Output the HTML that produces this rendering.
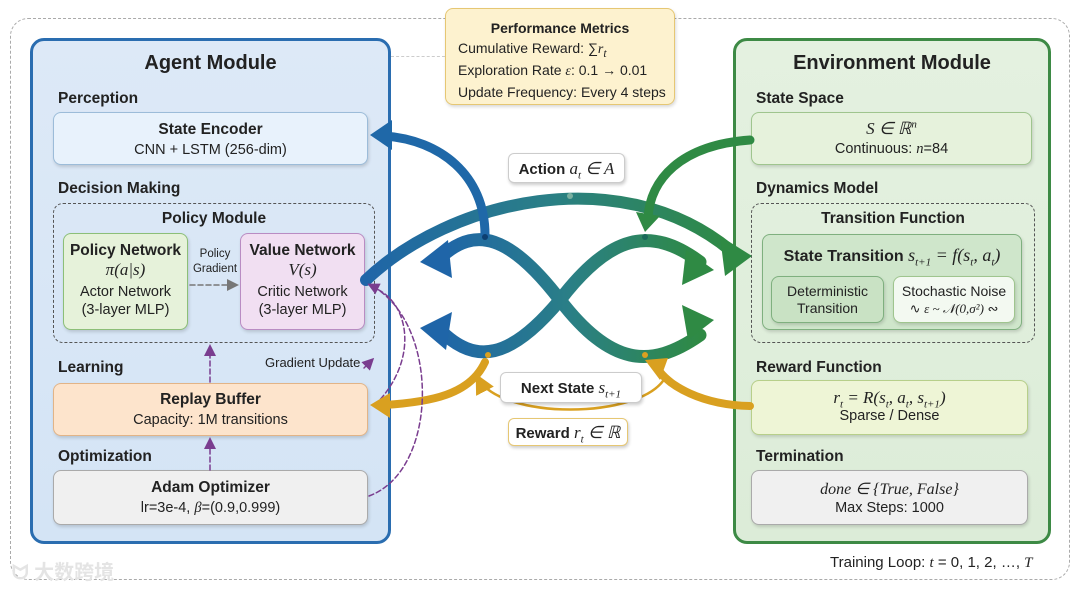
<!DOCTYPE html>
<html><head><meta charset="utf-8"><style>
*{box-sizing:border-box;margin:0;padding:0}
body{width:1080px;height:589px;background:#fff;position:relative;overflow:hidden;font-family:"Liberation Sans",sans-serif;color:#222}
sub,sup{line-height:0}
.a{position:absolute}
.box{position:absolute;border-radius:8px;text-align:center;box-shadow:1px 2px 3px rgba(0,0,0,.15)}
.h{font-weight:bold;font-size:15.5px;position:absolute}
.t{font-weight:bold;font-size:15.5px}
.s{font-size:14.5px}
.m{font-family:"Liberation Serif",serif;font-style:italic}
.lab{position:absolute;background:#fff;border-radius:6px;text-align:center;font-weight:bold;font-size:15px;box-shadow:1px 2px 3px rgba(0,0,0,.2)}
</style></head><body>
<div class="a" style="left:10px;top:18px;width:1060px;height:562px;border:1.5px dashed #aaa;border-radius:18px"></div>

<div class="a" style="left:30px;top:38px;width:361px;height:506px;border:3px solid #2a6db0;border-radius:14px;background:linear-gradient(#dde9f7,#d4e4f5)"></div>
<div class="a" style="left:30px;top:52px;width:361px;text-align:center;font-weight:bold;font-size:20px">Agent Module</div>
<div class="h" style="left:58px;top:90px">Perception</div>
<div class="box" style="left:53px;top:112px;width:315px;height:53px;background:#e8f2fc;border:1.5px solid #9cbcd9;padding-top:8px"><div class="t">State Encoder</div><div class="s" style="margin-top:3px">CNN + LSTM (256-dim)</div></div>
<div class="h" style="left:58px;top:180px">Decision Making</div>
<div class="a" style="left:53px;top:203px;width:322px;height:140px;border:1.5px dashed #555;border-radius:10px"></div>
<div class="a t" style="left:53px;top:210px;width:322px;text-align:center">Policy Module</div>
<div class="box" style="left:63px;top:233px;width:125px;height:97px;background:#e6f2da;border:1.5px solid #8cbf78;padding-top:8px"><div class="t">Policy Network</div><div class="m" style="font-size:17px">π(a|s)</div><div class="s" style="margin-top:3px;line-height:18px">Actor Network<br>(3-layer MLP)</div></div>
<div class="box" style="left:240px;top:233px;width:125px;height:97px;background:#f1dff2;border:1.5px solid #b98cc3;padding-top:8px"><div class="t">Value Network</div><div class="m" style="font-size:17px">V(s)</div><div class="s" style="margin-top:3px;line-height:18px">Critic Network<br>(3-layer MLP)</div></div>
<div class="a" style="left:190px;top:247px;width:50px;text-align:center;font-size:11.5px;line-height:15px">Policy<br>Gradient</div>
<div class="h" style="left:58px;top:359px">Learning</div>
<div class="a" style="left:265px;top:355px;font-size:13px">Gradient Update</div>
<div class="box" style="left:53px;top:383px;width:315px;height:53px;background:#fde4cc;border:1.5px solid #e2b487;padding-top:7px"><div class="t">Replay Buffer</div><div class="s" style="margin-top:3px">Capacity: 1M transitions</div></div>
<div class="h" style="left:58px;top:448px">Optimization</div>
<div class="box" style="left:53px;top:470px;width:315px;height:55px;background:#f0f0f0;border:1.5px solid #aaa;padding-top:8px"><div class="t">Adam Optimizer</div><div class="s" style="margin-top:3px">lr=3e-4, <span class="m">β</span>=(0.9,0.999)</div></div>

<div class="a" style="left:733px;top:38px;width:318px;height:506px;border:3px solid #3d8a45;border-radius:14px;background:linear-gradient(#e4f1e0,#dcecd8)"></div>
<div class="a" style="left:733px;top:52px;width:318px;text-align:center;font-weight:bold;font-size:20px">Environment Module</div>
<div class="h" style="left:756px;top:90px">State Space</div>
<div class="box" style="left:751px;top:112px;width:281px;height:53px;background:#e6f2dc;border:1.5px solid #9fc58e;padding-top:6px"><div class="m" style="font-size:17px">S ∈ ℝ<sup style="font-size:11px">n</sup></div><div class="s" style="margin-top:2px">Continuous: <span class="m">n</span>=84</div></div>
<div class="h" style="left:756px;top:180px">Dynamics Model</div>
<div class="a" style="left:751px;top:203px;width:284px;height:140px;border:1.5px dashed #555;border-radius:10px"></div>
<div class="a t" style="left:751px;top:210px;width:284px;text-align:center">Transition Function</div>
<div class="box" style="left:762px;top:234px;width:260px;height:96px;background:#cfe6cb;border:1.5px solid #7fb07f;padding-top:10px"><div class="t" style="font-size:16px">State Transition <span class="m" style="font-weight:normal;font-size:18px">s<sub style="font-size:11px">t+1</sub> = f(s<sub style="font-size:11px">t</sub>, a<sub style="font-size:11px">t</sub>)</span></div></div>
<div class="box" style="left:771px;top:276px;width:113px;height:47px;background:#c9e2c4;border:1.5px solid #7fb07f;padding-top:6px;font-size:14px;line-height:17px">Deterministic<br>Transition</div>
<div class="box" style="left:893px;top:276px;width:122px;height:47px;background:#f3f9f1;border:1.5px solid #9fc58e;padding-top:6px;font-size:14px;line-height:17px">Stochastic Noise<br><span style="font-size:13px">∿ <span class="m">ε ~ 𝒩(0,σ²)</span> ∾</span></div>
<div class="h" style="left:756px;top:359px">Reward Function</div>
<div class="box" style="left:751px;top:380px;width:277px;height:55px;background:#eef5d6;border:1.5px solid #b7cf8a;padding-top:7px"><div class="m" style="font-size:17px">r<sub style="font-size:11px">t</sub> = R(s<sub style="font-size:11px">t</sub>, a<sub style="font-size:11px">t</sub>, s<sub style="font-size:11px">t+1</sub>)</div><div class="s">Sparse / Dense</div></div>
<div class="h" style="left:756px;top:448px">Termination</div>
<div class="box" style="left:751px;top:470px;width:277px;height:55px;background:#f0f0f0;border:1.5px solid #aaa;padding-top:8px"><div class="m" style="font-size:16px">done ∈ {True, False}</div><div class="s" style="margin-top:1px">Max Steps: 1000</div></div>
<div class="a" style="left:830px;top:554px;font-size:15px">Training Loop: <span class="m">t</span> = 0, 1, 2, …, <span class="m">T</span></div>
<div class="a" style="left:12px;top:556px;font-size:20px;color:#e4e4e4;font-weight:bold;font-family:'Liberation Sans','Noto Sans CJK SC',sans-serif">ᗢ 大数跨境</div>

<div class="box" style="left:445px;top:8px;width:230px;height:97px;background:#fdf2cf;border:1.5px solid #e6c773;padding-top:9px;text-align:left;padding-left:12px;font-size:14px;line-height:20px"><div style="text-align:center;font-weight:bold;margin-left:-12px">Performance Metrics</div>Cumulative Reward: ∑<span class="m">r<sub>t</sub></span><br>Exploration Rate <span class="m">ε</span>: 0.1 → 0.01<br>Update Frequency: Every 4 steps</div>
<div class="a" style="left:391px;top:56px;width:54px;border-top:1.5px dashed #ccc"></div>

<svg class="a" style="left:0;top:0" width="1080" height="589" viewBox="0 0 1080 589">
<defs>
<linearGradient id="bg" x1="0" x2="1"><stop offset="0" stop-color="#1f65a8"/><stop offset=".5" stop-color="#2a7f86"/><stop offset="1" stop-color="#2f8a44"/></linearGradient>
<marker id="pa" markerWidth="8" markerHeight="8" refX="6" refY="4" orient="auto"><path d="M0,0L8,4L0,8z" fill="#7a3d8f"/></marker>
<marker id="ga" markerWidth="8" markerHeight="8" refX="6" refY="4" orient="auto"><path d="M0,0L8,4L0,8z" fill="#777"/></marker>
<marker id="oa" markerWidth="8" markerHeight="8" refX="6" refY="4" orient="auto"><path d="M0,0L8,4L0,8z" fill="#d9a020"/></marker>
</defs>
<g fill="none" stroke-linecap="round">
<path d="M366,280 C450,200 620,160 730,250" stroke="url(#bg)" stroke-width="12"/>
<path d="M440,258 C475,225 510,235 560,300 C610,365 650,370 700,335" stroke="url(#bg)" stroke-width="13"/>
<path d="M440,330 C475,365 510,360 560,300 C610,235 650,225 700,262" stroke="url(#bg)" stroke-width="13"/>
<path d="M485,235 C485,175 440,140 385,136" stroke="#1f68a8" stroke-width="9"/>
<path d="M750,140 C680,145 650,180 648,218" stroke="#2f8a44" stroke-width="9"/>
<path d="M485,362 C470,395 430,402 385,405" stroke="#d9a020" stroke-width="8"/>
<path d="M750,406 C700,405 670,385 660,372" stroke="#d9a020" stroke-width="8"/>
<path d="M665,378 C640,420 500,420 478,378" stroke="#d9a020" stroke-width="2.5" marker-end="url(#oa)"/>
<path d="M190,285 L236,285" stroke="#777" stroke-width="1.5" stroke-dasharray="5,3" marker-end="url(#ga)"/>
<path d="M210,470 L210,440" stroke="#7a3d8f" stroke-width="1.5" stroke-dasharray="5,3" marker-end="url(#pa)"/>
<path d="M210,382 L210,347" stroke="#7a3d8f" stroke-width="1.5" stroke-dasharray="5,3" marker-end="url(#pa)"/>
<path d="M369,496 C440,470 440,320 370,285" stroke="#7a3d8f" stroke-width="1.5" stroke-dasharray="5,3" marker-end="url(#pa)"/>
<path d="M375,405 C420,360 410,300 372,287" stroke="#7a3d8f" stroke-width="1.5" stroke-dasharray="5,3"/>
<path d="M364,368 L372,360" stroke="#7a3d8f" stroke-width="1.5" stroke-dasharray="3,2" marker-end="url(#pa)"/>
</g>
<g>
<path d="M752,256 L720,236 L725,276 z" fill="#2f8a44"/>
<path d="M420,262 L448,240 L452,278 z" fill="#1f65a8"/>
<path d="M420,328 L452,312 L446,350 z" fill="#1f65a8"/>
<path d="M714,270 L686,250 L682,285 z" fill="#2f8a44"/>
<path d="M714,320 L682,305 L688,340 z" fill="#2f8a44"/>
<path d="M370,135 L392,120 L392,150 z" fill="#1f68a8"/>
<path d="M645,232 L636,212 L660,216 z" fill="#2f8a44"/>
<path d="M370,405 L390,393 L390,418 z" fill="#d9a020"/>
<path d="M645,360 L668,358 L660,380 z" fill="#d9a020"/>
<circle cx="485" cy="237" r="3" fill="#0d3f70"/><circle cx="645" cy="237" r="3" fill="#1a6a5a"/>
<circle cx="570" cy="196" r="3" fill="#7ab0a0"/><circle cx="488" cy="355" r="3" fill="#d9a020"/><circle cx="645" cy="355" r="3" fill="#d9a020"/>
</g>
</svg>

<div class="lab" style="left:508px;top:153px;width:117px;height:30px;padding-top:5px;border:1px solid #ccc">Action <span class="m" style="font-weight:normal;font-size:17px">a<sub style="font-size:11px">t</sub> ∈ A</span></div>
<div class="lab" style="left:500px;top:372px;width:142px;height:31px;padding-top:5px;border:1px solid #ccc">Next State <span class="m" style="font-weight:normal;font-size:17px">s<sub style="font-size:11px">t+1</sub></span></div>
<div class="lab" style="left:508px;top:418px;width:120px;height:28px;padding-top:4px;border:1px solid #e6c773">Reward <span class="m" style="font-weight:normal;font-size:17px">r<sub style="font-size:11px">t</sub> ∈ ℝ</span></div>
</body></html>
